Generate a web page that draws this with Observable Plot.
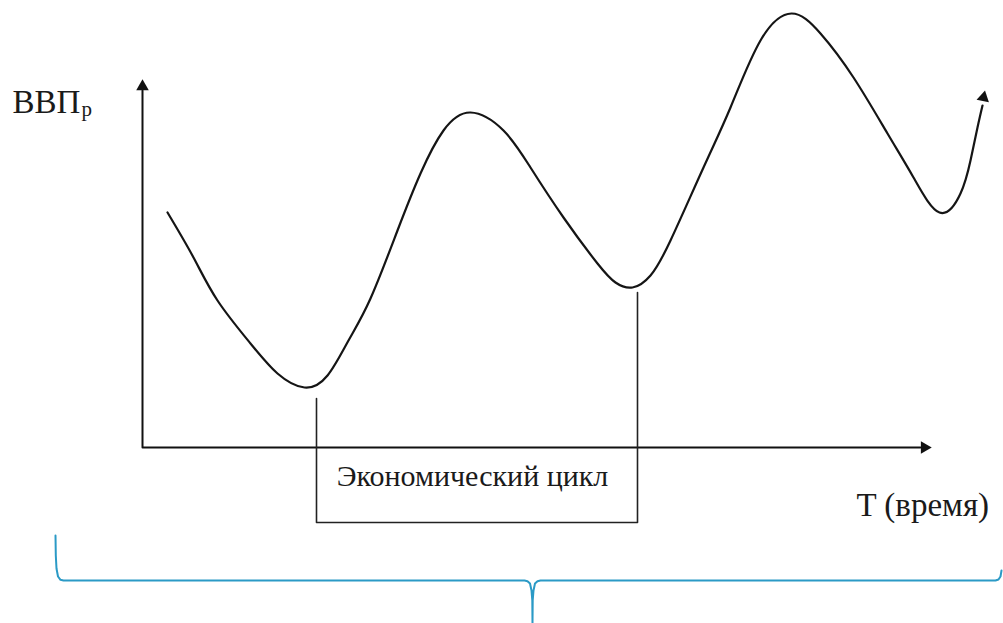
<!DOCTYPE html>
<html>
<head>
<meta charset="utf-8">
<script src="https://cdn.jsdelivr.net/npm/d3@7"></script>
<script src="https://cdn.jsdelivr.net/npm/@observablehq/plot@0.6"></script>
<style>
  html, body { margin: 0; padding: 0; background: #ffffff; }
</style>
</head>
<body>
<div id="chart"></div>
<script>
// Business cycle curve: time (arbitrary units) vs real GDP (arbitrary units)
const timeValues = [2.5, 5.1, 7.5, 10.8, 13.5, 16.2, 18.5, 20.6, 22.8, 25.5, 27.8, 30.1, 32.8, 36.1, 38.8, 42.1, 45.5, 47.3, 49.0, 50.8, 52.8, 56.1, 58.8, 61.8, 64.9, 67.8, 71.1, 74.5, 77.1, 79.7, 81.8, 82.8, 83.5, 84.0];
const gdpValues  = [23.5, 19.0, 14.7, 10.4, 7.4, 6.0, 7.2, 10.7, 14.9, 21.7, 27.4, 31.7, 33.5, 31.7, 28.0, 23.0, 18.4, 16.5, 16.0, 17.2, 20.7, 28.0, 34.0, 40.7, 43.4, 41.4, 37.0, 31.4, 27.0, 23.5, 25.4, 28.7, 32.0, 34.2];

// Axes (origin and ends)
const axisTime = [0, 0, 77.8];
const axisGdp  = [35.7, 0, 0];

// Arrowheads: y axis top, x axis end, curve end
const arrowTime  = [0, 78.2, 84.1];
const arrowGdp   = [36.1, 0, 35.0];
const arrowAngle = [0, 90, 12];

// Cycle bracket (trough to trough)
const bracketTime = [17.4, 17.4, 49.5, 49.5];
const bracketGdp  = [4.9, -7.5, -7.5, 15.5];

// Blue brace under the chart
const braceTime  = [-8.7, -8.67, -8.6, -8.45, -8.2, -7.9, 38.2, 38.5, 38.75, 38.9, 38.98, 39.0,
                    39.0, 39.02, 39.1, 39.25, 39.5, 39.8, 85.3, 85.6, 85.8, 85.9];
const braceGdp   = [-8.8, -10.8, -12.1, -12.9, -13.23, -13.3, -13.3, -13.37, -13.6, -14.3, -15.3, -17.6,
                    -17.6, -15.3, -14.3, -13.6, -13.37, -13.3, -13.3, -13.2, -12.9, -12.3];

// Text labels
const labelText  = ["Экономический цикл", "T (время)", "ВВП"];
const labelTime  = [33.0, 71.4, -13.0];
const labelGdp   = [-3.8, -6.8, 33.5];
const labelAnchor = ["middle", "start", "start"];
const labelSize  = [30, 33, 33];
const subText = ["р"];
const subTime = [-6.1];
const subGdp  = [33.2];

const curve = timeValues.map((t, i) => ({t, g: gdpValues[i]}));
const axis = axisTime.map((t, i) => ({t, g: axisGdp[i]}));
const arrows = arrowTime.map((t, i) => ({t, g: arrowGdp[i], a: arrowAngle[i]}));
const bracket = bracketTime.map((t, i) => ({t, g: bracketGdp[i]}));
const brace = braceTime.map((t, i) => ({t, g: braceGdp[i]}));
const labels = labelText.map((s, i) => ({s, t: labelTime[i], g: labelGdp[i], anchor: labelAnchor[i], size: labelSize[i]}));
const subs = subText.map((s, i) => ({s, t: subTime[i], g: subGdp[i]}));

const font = "Liberation Serif";

const chart = Plot.plot({
  width: 1003,
  height: 623,
  margin: 0,
  x: {domain: [-14.2, 86.1], axis: null},
  y: {domain: [-17.6, 44.7], axis: null},
  marks: [
    Plot.line(axis, {x: "t", y: "g", stroke: "#111", strokeWidth: 2}),
    Plot.line(bracket, {x: "t", y: "g", stroke: "#222", strokeWidth: 1.6}),
    Plot.line(curve, {x: "t", y: "g", stroke: "#151515", strokeWidth: 2.2, curve: "natural"}),
    Plot.dot(arrows, {x: "t", y: "g", rotate: "a", symbol: "triangle2", r: 6, fill: "#111", stroke: "none"}),
    Plot.line(brace, {x: "t", y: "g", stroke: "#2b9ac6", strokeWidth: 2, strokeLinejoin: "round"}),
    ...labels.map(d => Plot.text([d], {x: "t", y: "g", text: "s", textAnchor: d.anchor, lineAnchor: "bottom", fontSize: d.size, fontFamily: font})),
    Plot.text(subs, {x: "t", y: "g", text: "s", textAnchor: "start", lineAnchor: "bottom", fontSize: 21, fontFamily: font})
  ]
});
d3.select(chart).selectAll("text").style("font-family", font).attr("fill", "#1a1a1a");
document.getElementById("chart").appendChild(chart);
</script>
</body>
</html>
